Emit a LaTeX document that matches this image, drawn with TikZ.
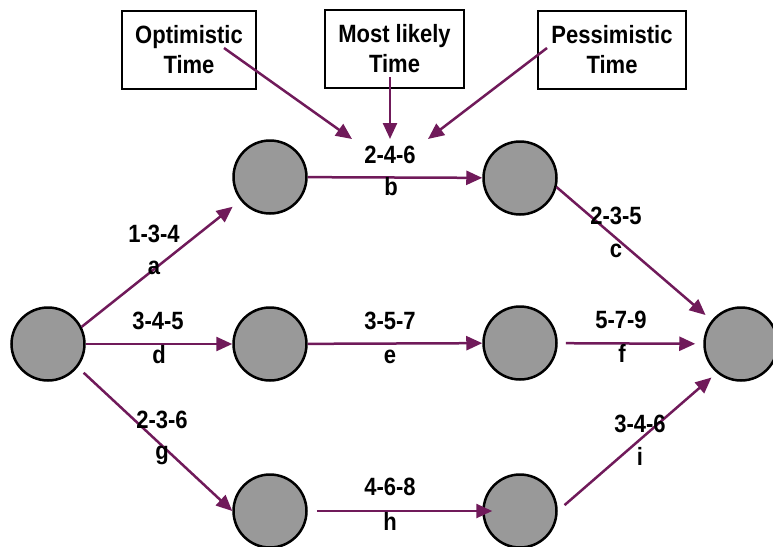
\documentclass[tikz,border=0pt]{standalone}
\usepackage{fontspec}
\usepackage{xcolor}
\usepackage{tikz}
\usetikzlibrary{arrows.meta}
\newfontfamily\labelfont[FakeStretch=0.88]{Liberation Sans}
\definecolor{arrowpurple}{RGB}{112, 26, 90}
\definecolor{eventgray}{RGB}{153, 153, 153}

\begin{document}
\begin{tikzpicture}[x=1pt, y=-1pt,
    event/.style={circle, draw=black, line width=2.5pt, fill=eventgray, minimum size=73pt, inner sep=0pt},
    timebox/.style={draw=black, line width=2pt, minimum height=78pt, align=center, inner sep=0pt,
        font=\labelfont\bfseries\fontsize{25}{30}\selectfont},
    act/.style={-{Triangle[length=16pt, width=14pt]}, arrowpurple, line width=2.5pt},
    lbl/.style={anchor=base, inner sep=0pt, font=\labelfont\bfseries\fontsize{25}{30}\selectfont}]

    \useasboundingbox (0,0) rectangle (773,546);

    % Events
    \node[event] at (48,344) (s) {};
    \node[event] at (270,177) (u1) {};
    \node[event] at (520,178) (u2) {};
    \node[event] at (270,344) (m1) {};
    \node[event] at (520,343) (m2) {};
    \node[event] at (270,511) (l1) {};
    \node[event] at (520,511) (l2) {};
    \node[event] at (741,344) (t) {};

    % Time estimate boxes
    \node[timebox, minimum width=134pt] at (189,50) (opt) {Optimistic\\Time};
    \node[timebox, minimum width=139pt] at (394.5,49) (likely) {Most likely\\Time};
    \node[timebox, minimum width=148pt] at (612,50) (pess) {Pessimistic\\Time};

    % Arrows boxes -> estimate of b
    \coordinate (opttip) at (352,139);
    \coordinate (likelytip) at (390,139);
    \coordinate (pesstip) at (428,139);
    \draw[act] ([xshift=35pt, yshift=2pt]opt.center) -- (opttip);
    \draw[act] ([xshift=-4.5pt, yshift=-28pt]likely.center) -- (likelytip);
    \draw[act] ([xshift=-65pt, yshift=2pt]pess.center) -- (pesstip);

    % Activities
    \draw[act, shorten >=10pt] (s.27) -- (u1);
    \draw[act] (s) -- (m1);
    \draw[act, shorten <=8pt] (s.-38) -- (l1.west);
    \draw[act] (u1) -- (u2);
    \draw[act] (m1) -- (m2);
    \draw[act, shorten <=9pt, shorten >=-10pt] (l1) -- (l2);
    \draw[act, shorten >=8pt] (u2.-14) -- (t.141);
    \draw[act, shorten <=8pt, shorten >=8pt] (m2) -- (t);
    \draw[act, shorten <=9pt, shorten >=7pt] (l2.east) -- (t.-130);

    % Activity labels
    \node[lbl] at (154,242) (ta) {1-3-4};
    \node[lbl] at (154,274) (na) {a};
    \node[lbl] at (390,163) (tb) {2-4-6};
    \node[lbl] at (391,195) (nb) {b};
    \node[lbl] at (616,224) (tc) {2-3-5};
    \node[lbl] at (616,257) (nc) {c};
    \node[lbl] at (158,329) (td) {3-4-5};
    \node[lbl] at (159,363) (nd) {d};
    \node[lbl] at (390,329) (te) {3-5-7};
    \node[lbl] at (390,363) (ne) {e};
    \node[lbl] at (621,328) (tf) {5-7-9};
    \node[lbl] at (622,362) (nf) {f};
    \node[lbl] at (162,428) (tg) {2-3-6};
    \node[lbl] at (162,459) (ng) {g};
    \node[lbl] at (390,495) (th) {4-6-8};
    \node[lbl] at (390,530) (nh) {h};
    \node[lbl] at (640,432) (ti) {3-4-6};
    \node[lbl] at (640,465) (ni) {i};

\end{tikzpicture}
\end{document}
